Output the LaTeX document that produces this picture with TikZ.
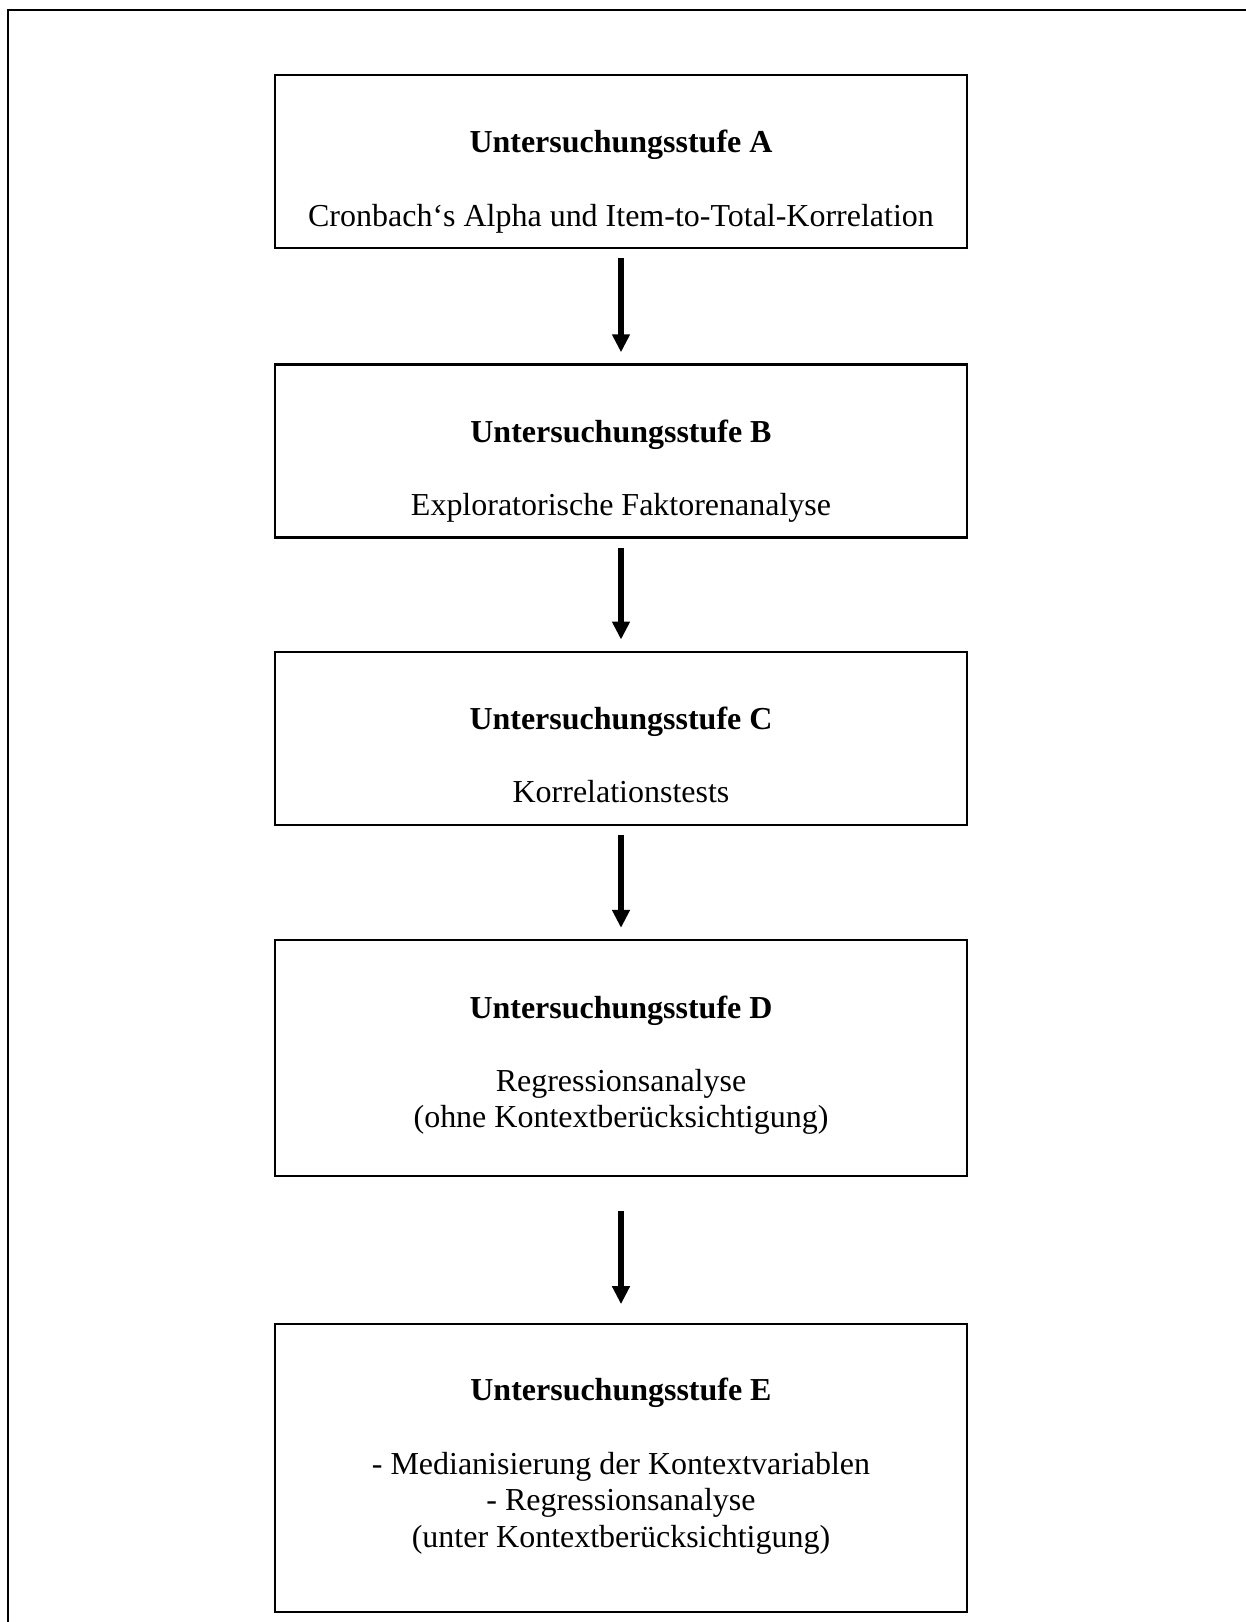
\documentclass[tikz,border=0pt]{standalone}
\usepackage{fontspec}
\setmainfont{Liberation Serif}
\usetikzlibrary{arrows.meta, positioning}

\begin{document}
\begin{tikzpicture}[
    font=\fontsize{18.2}{20.8}\selectfont,
    stage/.style={rectangle, draw=black, line width=1.3pt,
                  minimum width=13.84cm, minimum height=#1, inner sep=0pt},
    stagetext/.style={align=center, anchor=base, inner sep=0pt},
    arr/.style={-{Triangle[length=0.36cm, width=0.34cm]}, line width=3.4pt,
                shorten <=0.18cm, shorten >=0.22cm},
    node distance=2.3cm
  ]

  \useasboundingbox (0,0) rectangle (24.92,-32.44);
  \draw[line width=1.7pt] (0.16,-32.44) -- (0.16,-0.2) -- (24.92,-0.2);

  \node[stage=3.46cm, anchor=north] (stA) at (12.42,-1.48) {};
  \node[stage=3.46cm, below=2.28cm of stA] (stB) {};
  \node[stage=3.46cm, below=2.24cm of stB] (stC) {};
  \node[stage=4.72cm, below=2.26cm of stC] (stD) {};
  \node[stage=5.76cm, below=2.92cm of stD] (stE) {};

  % base sits on the last line of each text
  \node[stagetext] (txA) at ([yshift=-3.04cm]stA.north)
        {\textbf{Untersuchungsstufe A}\\[20.8pt]
         Cronbach‘s Alpha und Item-to-Total-Korrelation};
  \node[stagetext] (txB) at ([yshift=-3.04cm]stB.north)
        {\textbf{Untersuchungsstufe B}\\[20.8pt]
         Exploratorische Faktorenanalyse};
  \node[stagetext] (txC) at ([yshift=-3.04cm]stC.north)
        {\textbf{Untersuchungsstufe C}\\[20.8pt]
         Korrelationstests};
  \node[stagetext] (txD) at ([yshift=-3.78cm]stD.north)
        {\textbf{Untersuchungsstufe D}\\[20.8pt]
         Regressionsanalyse\\
         (ohne Kontextberücksichtigung)};
  \node[stagetext] (txE) at ([yshift=-4.48cm]stE.north)
        {\textbf{Untersuchungsstufe E}\\[20.8pt]
         - Medianisierung der Kontextvariablen\\
         - Regressionsanalyse\\
         (unter Kontextberücksichtigung)};

  \foreach \a/\b in {stA/stB, stB/stC, stC/stD}
    \draw[arr] (\a) -- (\b);
  \draw[arr, shorten <=0.68cm, shorten >=0.38cm] (stD) -- (stE);

\end{tikzpicture}
\end{document}
